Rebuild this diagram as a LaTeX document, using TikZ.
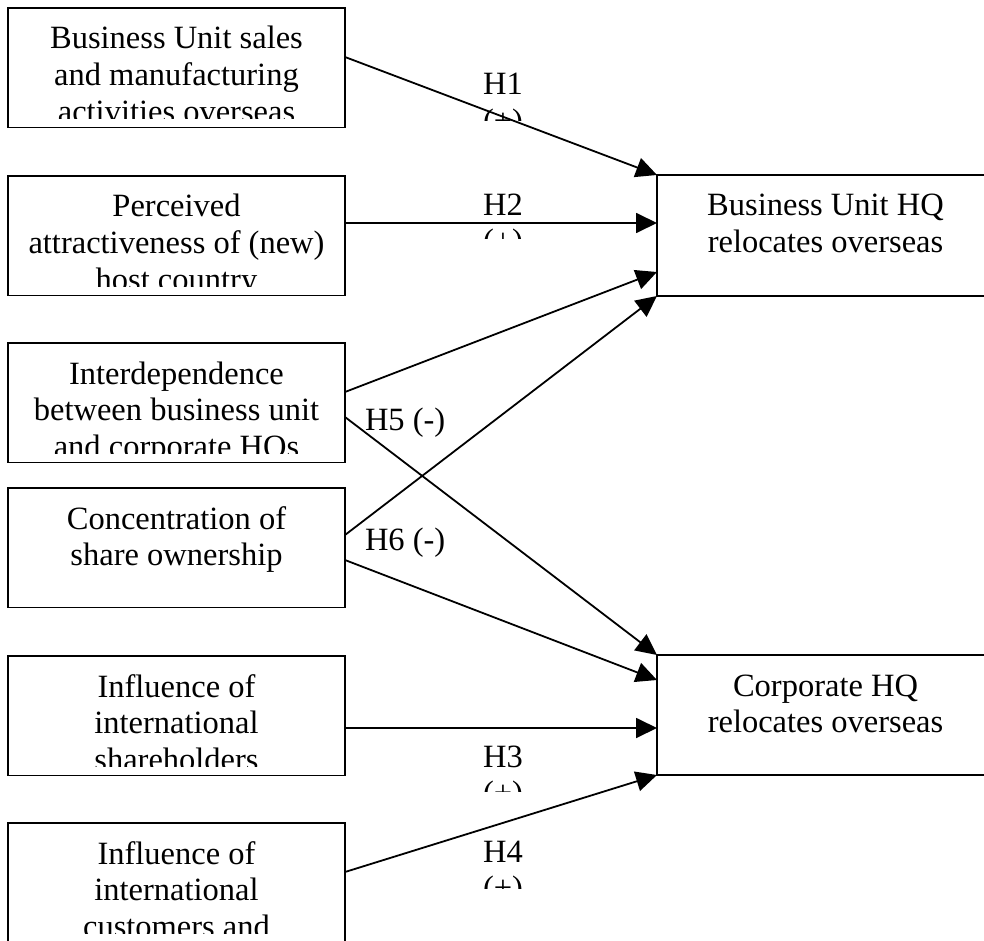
\documentclass[tikz,border=0pt]{standalone}
\usepackage{fontspec}
\setmainfont{Liberation Serif}
\usetikzlibrary{arrows.meta}
\newcommand{\boxtext}[1]{\parbox[t]{330pt}{\fontsize{32.5}{36.7}\selectfont\centering #1\par}}
\newcommand{\lbltext}[1]{\parbox[t]{80pt}{\fontsize{32.5}{36.7}\selectfont\centering #1\par}}
\begin{document}
\begin{tikzpicture}[x=1pt,y=-1pt,
  box/.style={draw, line width=1.9pt, minimum width=337pt, inner sep=0pt, outer sep=0pt},
  txt/.style={anchor=base, inner sep=0pt, outer sep=0pt},
  arr/.style={line width=1.8pt, -{Triangle[length=21pt,width=20pt]}}]
\useasboundingbox (0,0) rectangle (984,941);
\fill[white] (0,0) rectangle (984,941);

% left boxes
\node[box, minimum height=119.5pt] (b1) at (176.5,67.75) {};
\node[box, minimum height=119.5pt] (b2) at (176.5,235.75) {};
\node[box, minimum height=119.5pt] (b3) at (176.5,402.75) {};
\node[box, minimum height=119.5pt] (b4) at (176.5,547.75) {};
\node[box, minimum height=119.5pt] (b5) at (176.5,715.75) {};
\node[box, minimum height=119.5pt] (b6) at (176.5,882.75) {};
% right boxes
\node[box, minimum height=121pt] (bu) at (825.5,235.5) {};
\node[box, minimum height=120pt] (ch) at (825.5,715) {};

% clipped texts
\foreach \b/\t in {b1/{Business Unit sales\\and manufacturing\\activities overseas},
                   b2/{Perceived\\attractiveness of (new)\\host country},
                   b3/{Interdependence\\between business unit\\and corporate HQs},
                   b4/{Concentration of\\share ownership},
                   b5/{Influence of\\international\\shareholders},
                   b6/{Influence of\\international\\customers and},
                   bu/{Business Unit HQ\\relocates overseas},
                   ch/{Corporate HQ\\relocates overseas}}{
  \begin{scope}
    \clip ([xshift=2pt,yshift=-2pt]\b.north west) rectangle ([xshift=-2pt,yshift=9pt]\b.south east);
    \node[txt] (t-\b) at ([yshift=-41pt]\b.north) {\boxtext{\t}};
  \end{scope}
}

% hypothesis labels (second line clipped)
\foreach \n/\y/\c in {1/95/121, 2/215/239, 3/767/791, 4/862/888}{
  \begin{scope}
    \clip (460,\y-40) rectangle (546,\c);
    \node[txt] (h\n) at (503,\y) {\lbltext{H\n\\(+)}};
  \end{scope}
}
\node[txt, anchor=base west] (h5) at (365,430) {\fontsize{32.5}{36.7}\selectfont H5 (-)};
\node[txt, anchor=base west] (h6) at (365,550) {\fontsize{32.5}{36.7}\selectfont H6 (-)};

% connectors
\draw[arr] ([yshift=-49pt]b1.north east) -- (bu.north west);
\draw[arr] ([yshift=-47pt]b2.north east) -- ([yshift=-48pt]bu.north west);
\draw[arr] ([yshift=-49pt]b3.north east) -- ([yshift=-97pt]bu.north west);
\draw[arr] ([yshift=-74pt]b3.north east) -- (ch.north west);
\draw[arr] ([yshift=-47pt]b4.north east) -- (bu.south west);
\draw[arr] ([yshift=-72pt]b4.north east) -- ([yshift=-25pt]ch.north west);
\draw[arr] ([yshift=-72pt]b5.north east) -- ([yshift=-73pt]ch.north west);
\draw[arr] ([yshift=-49pt]b6.north east) -- (ch.south west);
\end{tikzpicture}
\end{document}
